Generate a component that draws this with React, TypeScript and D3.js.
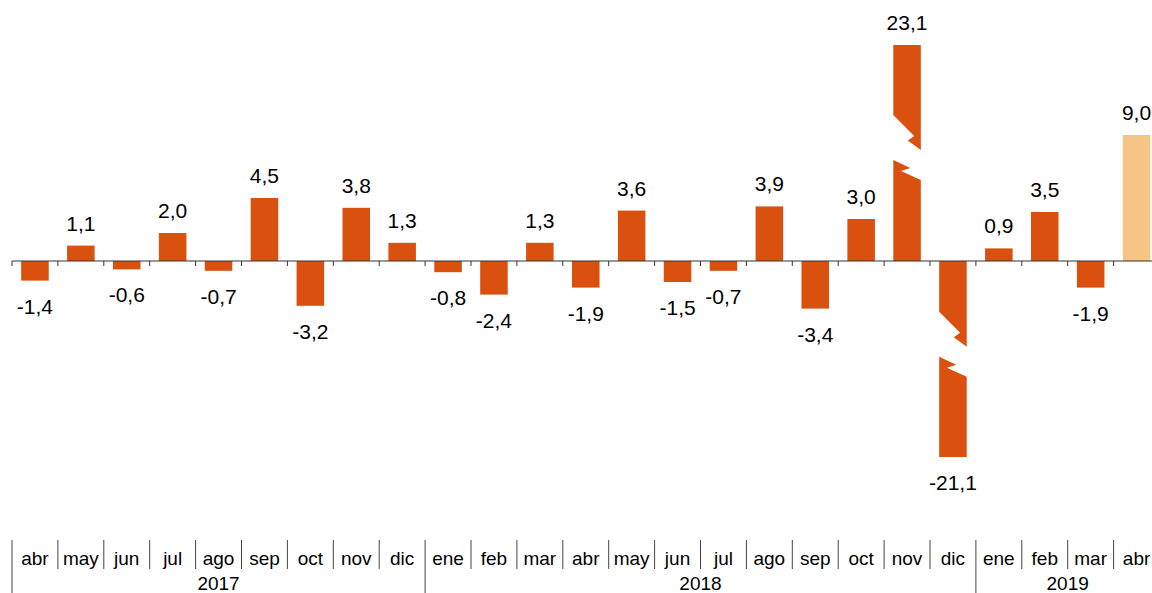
import * as d3 from 'd3'
import React from 'react'

const months = ['abr', 'may', 'jun', 'jul', 'ago', 'sep', 'oct', 'nov', 'dic',
  'ene', 'feb', 'mar', 'abr', 'may', 'jun', 'jul', 'ago', 'sep', 'oct', 'nov', 'dic',
  'ene', 'feb', 'mar', 'abr']
const values = [-1.4, 1.1, -0.6, 2.0, -0.7, 4.5, -3.2, 3.8, 1.3,
  -0.8, -2.4, 1.3, -1.9, 3.6, -1.5, -0.7, 3.9, -3.4, 3.0, 23.1, -21.1,
  0.9, 3.5, -1.9, 9.0]
const years = [
  { label: '2017', from: 0, to: 9 },
  { label: '2018', from: 9, to: 21 },
  { label: '2019', from: 21, to: 25 }
]
// bars drawn with an axis break: value shown on the scale and where the cut starts
const breaks: Record<number, { shown: number; cutAt: number }> = {
  19: { shown: 15.43, cutAt: 10.43 },
  20: { shown: -14.0, cutAt: -3.62 }
}
const projected = 24

const W = 1152
const H = 593
const font = 'Liberation Sans, Arial, sans-serif'
const main = '#D9500F'
const light = '#F5C584'

const fmt = (v: number) => v.toFixed(1).replace('.', ',')

export default function App() {
  const x = d3.scaleBand<number>()
    .domain(d3.range(values.length))
    .range([12, 12 + 25 * 45.9])
    .paddingInner(0.4)
    .paddingOuter(0.2)
  const y = d3.scaleLinear().domain([-14, 15.5]).range([457, 44])
  const bw = x.bandwidth()
  // category boundary (also works for the end edge)
  const edge = (i: number) => x.range()[0] + i * x.step()
  const y0 = y(0)

  // zigzag cut lines, relative to cut start at the left edge
  const upperCut = [[0, 0], [0.76, 21], [0.53, 25.5], [1, 35]]
  const lowerCut = [[0, 45], [0.62, 53], [0.28, 56], [1, 65]]

  const bars = values.map((v, i) => {
    const bx = x(i)!
    const fill = i === projected ? light : main
    const br = breaks[i]
    if (!br) {
      return <rect key={i} x={bx} y={Math.min(y(v), y0)} width={bw}
        height={Math.abs(y(v) - y0)} fill={fill} />
    }
    const top = Math.min(y(br.shown), y0)
    const bottom = Math.max(y(br.shown), y0)
    const c = y(br.cutAt)
    const line = d3.line()
    const up = [[bx, top], [bx + bw, top],
      ...upperCut.slice().reverse().map(([f, d]) => [bx + f * bw, c + d])] as [number, number][]
    const low = [...lowerCut.map(([f, d]) => [bx + f * bw, c + d]),
      [bx + bw, bottom], [bx, bottom]] as [number, number][]
    return (
      <g key={i}>
        <path d={line(up)! + 'Z'} fill={fill} />
        <path d={line(low)! + 'Z'} fill={fill} />
      </g>
    )
  })

  const labels = values.map((v, i) => {
    const br = breaks[i]
    const shown = br ? br.shown : v
    const cx = x(i)! + bw / 2
    const ty = shown >= 0 ? y(shown) - 15 : y(shown) + 33
    return <text key={i} x={cx} y={ty} textAnchor="middle" fontSize={21}
      fontFamily={font} fill="#000">{fmt(v)}</text>
  })

  return (
    <svg width={W} height={H} style={{ position: 'absolute', left: 0, top: 0, display: 'block' }}>
      <rect width={W} height={H} fill="#fff" />
      {bars}
      <line x1={12} x2={W} y1={y0} y2={y0} stroke="#333" strokeWidth={1} />
      {d3.range(values.length + 1).map(i => (
        <line key={i} x1={edge(i)} x2={edge(i)} y1={y0} y2={y0 + 5} stroke="#333" />
      ))}
      {labels}
      {/* category axis at the bottom */}
      {d3.range(values.length).map(i => {
        const isYear = years.some(yr => yr.from === i)
        return <line key={'s' + i} x1={edge(i)} x2={edge(i)} y1={540}
          y2={isYear ? H : 569} stroke="#444" strokeWidth={1} />
      })}
      {months.map((m, i) => (
        <text key={'m' + i} x={x(i)! + bw / 2} y={565} textAnchor="middle"
          fontSize={19} fontFamily={font} fill="#000">{m}</text>
      ))}
      {years.map(yr => (
        <text key={yr.label} x={(edge(yr.from) + edge(yr.to)) / 2} y={590}
          textAnchor="middle" fontSize={19} fontFamily={font} fill="#000">{yr.label}</text>
      ))}
    </svg>
  )
}
